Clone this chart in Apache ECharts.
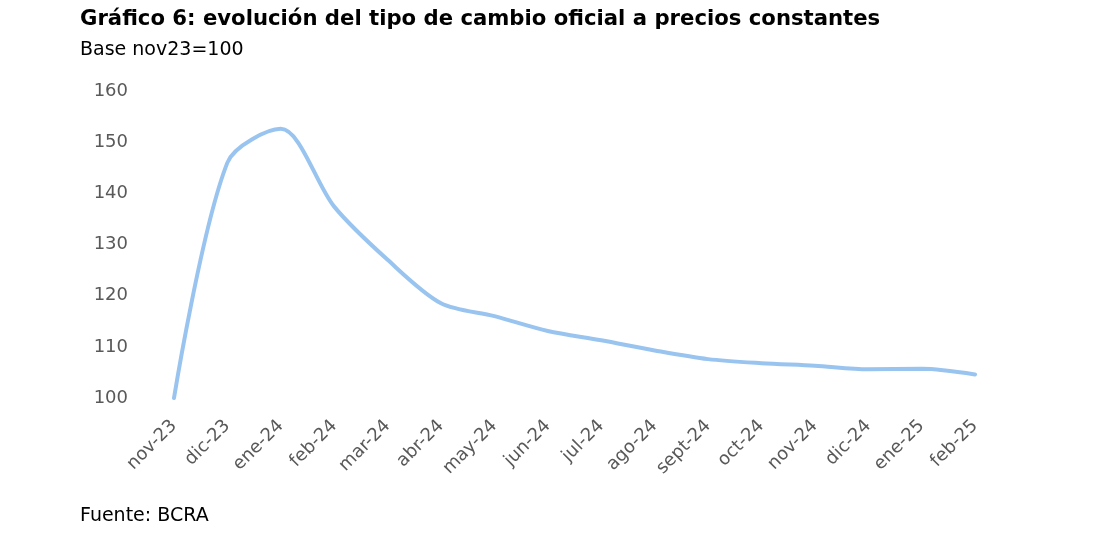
<!DOCTYPE html>
<html>
<head>
<meta charset="utf-8">
<script src="https://cdn.jsdelivr.net/npm/echarts@6/dist/echarts.min.js"></script>
<style>html,body{margin:0;padding:0;background:#fff;}#c{width:1099px;height:534px;}</style>
</head>
<body>
<div id="c"></div>
<script>
const categories = ['nov-23','dic-23','ene-24','feb-24','mar-24','abr-24','may-24','jun-24','jul-24','ago-24','sept-24','oct-24','nov-24','dic-24','ene-25','feb-25'];
const values = [100, 146, 152.6, 137.4, 127.0, 118.5, 116.0, 113.1, 111.3, 109.3, 107.6, 106.8, 106.3, 105.6, 105.7, 104.6];
const yTicks = [100, 110, 120, 130, 140, 150, 160];

const chart = echarts.init(document.getElementById('c'));
const font = 'DejaVu Sans';
chart.setOption({
  backgroundColor: '#fff',
  animation: false,
  title: [
    {text: 'Gráfico 6: evolución del tipo de cambio oficial a precios constantes', left: 80, top: 9, padding: 0,
     textStyle: {fontFamily: font, fontWeight: 'bold', fontSize: 21.2, color: '#000'}},
    {text: 'Base nov23=100', left: 80, top: 41, padding: 0,
     textStyle: {fontFamily: font, fontWeight: 'normal', fontSize: 19, color: '#000'}},
    {text: 'Fuente: BCRA', left: 80, top: 507, padding: 0,
     textStyle: {fontFamily: font, fontWeight: 'normal', fontSize: 19, color: '#000'}}
  ],
  grid: {left: 174, top: 91, width: 801, height: 307, containLabel: false},
  xAxis: {
    type: 'category', data: categories, boundaryGap: false,
    axisLine: {show: false}, axisTick: {show: false}, splitLine: {show: false},
    axisLabel: {rotate: 45, margin: 25, fontFamily: font, fontSize: 18, color: '#595959', interval: 0}
  },
  yAxis: {
    type: 'value', min: yTicks[0], max: yTicks[yTicks.length-1], interval: 10,
    axisLine: {show: false}, axisTick: {show: false}, splitLine: {show: false},
    axisLabel: {margin: 46, fontFamily: font, fontSize: 18, color: '#595959'}
  },
  series: [{
    type: 'line', data: values, smooth: 0.3, symbol: 'none',
    lineStyle: {color: '#99C4EF', width: 4, cap: 'round'}
  }]
});
</script>
</body>
</html>
